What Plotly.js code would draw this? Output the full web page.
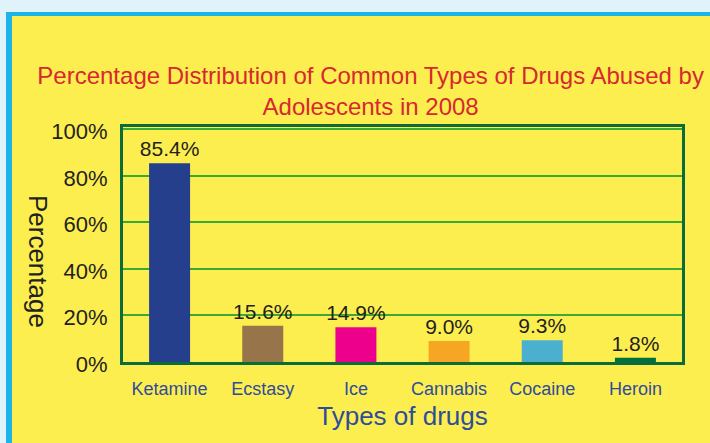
<!DOCTYPE html>
<html>
<head>
<meta charset="utf-8">
<script src="https://cdn.plot.ly/plotly-3.0.1.min.js"></script>
<style>
  html, body { margin:0; padding:0; width:710px; height:443px; overflow:hidden; background:#e0f3fb; }
  #frame { position:absolute; left:6px; top:12px; width:704px; height:431px; box-sizing:border-box;
           border-top:4px solid #1ab4e8; border-left:6px solid #1ab4e8; background:#fdee4f; }
  #chart { position:absolute; left:0; top:0; width:710px; height:443px; }
</style>
</head>
<body>
<div id="frame"></div>
<div id="chart"></div>
<script>
const categories = ["Ketamine", "Ecstasy", "Ice", "Cannabis", "Cocaine", "Heroin"];
const values = [85.4, 15.6, 14.9, 9.0, 9.3, 1.8];
const valueLabels = ["85.4%", "15.6%", "14.9%", "9.0%", "9.3%", "1.8%"];
const barColors = ["#263f8c", "#98744a", "#ec008c", "#f6a623", "#4bb0d0", "#00703c"];
const yTickVals = [0, 20, 40, 60, 80, 100];
const yTickText = ["0%", "20%", "40%", "60%", "80%", "100%"];

const font = "Liberation Sans, Arial, sans-serif";

const trace = {
  type: "bar",
  x: categories,
  y: values,
  text: valueLabels,
  textposition: "outside",
  constraintext: "none",
  cliponaxis: false,
  textfont: { family: font, size: 21, color: "#231f20" },
  marker: { color: barColors, line: { width: 0 } },
  width: 0.44,
  hoverinfo: "none"
};

const layout = {
  width: 710, height: 443,
  paper_bgcolor: "rgba(0,0,0,0)",
  plot_bgcolor: "rgba(0,0,0,0)",
  margin: { l: 123, r: 28, t: 127, b: 81 },
  showlegend: false,
  title: {
    text: "Percentage Distribution of Common Types of Drugs Abused by<br>Adolescents in 2008",
    font: { family: font, size: 24, color: "#d7282f" },
    xref: "container", x: 0.522, xanchor: "center",
    yref: "container", y: 0.81, yanchor: "top"
  },
  xaxis: {
    type: "category",
    showline: true, mirror: true, linecolor: "#0a6b3b", linewidth: 3,
    showgrid: false, zeroline: false,
    ticks: "", tickfont: { family: font, size: 18, color: "#2f4c9b" },
    ticklabelstandoff: 8,
    title: { text: "Types of drugs", font: { family: font, size: 26, color: "#2f4c9b" }, standoff: 10 }
  },
  yaxis: {
    range: [0, 101],
    tickvals: yTickVals, ticktext: yTickText,
    showline: true, mirror: true, linecolor: "#0a6b3b", linewidth: 3,
    showgrid: true, gridcolor: "#3aaa35", gridwidth: 2, zeroline: false,
    ticks: "", tickfont: { family: font, size: 22, color: "#231f20" },
    ticklabelstandoff: 8,
    ticklabelshift: 2
  },
  annotations: [{
    text: "Percentage", textangle: 90,
    xref: "paper", yref: "paper", x: -0.152, y: 0.43,
    xanchor: "center", yanchor: "middle", showarrow: false,
    font: { family: font, size: 26, color: "#231f20" }
  }]
};

Plotly.newPlot("chart", [trace], layout, { staticPlot: true, displayModeBar: false });
</script>
</body>
</html>
